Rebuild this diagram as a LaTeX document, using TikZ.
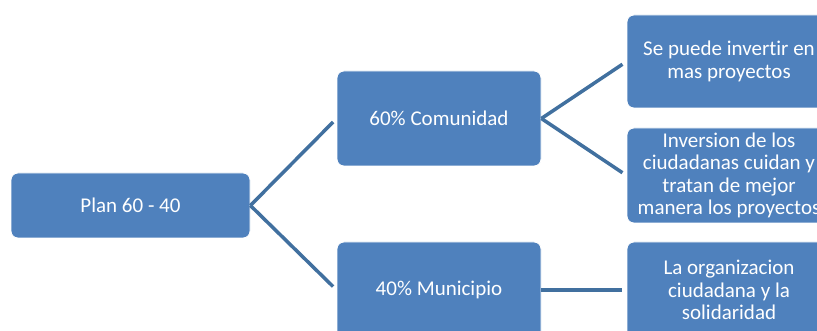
\documentclass[tikz,border=0pt]{standalone}
\usepackage{fontspec}
\setmainfont[Ligatures=NoCommon]{Carlito}
\definecolor{boxblue}{HTML}{4F81BD}
\definecolor{linkblue}{HTML}{41709F}
\begin{document}
\begin{tikzpicture}[x=1pt,y=-1pt,
  box/.style={rectangle, rounded corners=7pt, fill=boxblue, draw=white, line width=0.8pt,
    text=white, align=center, inner sep=0pt, font=\fontsize{21}{22.5}\selectfont},
  link/.style={draw=linkblue, line width=3.5pt}]
\useasboundingbox (0,0) rectangle (817,331);
\clip (0,0) rectangle (817,331);
\node[box, minimum width=239pt, minimum height=65pt] (plan) at (130.5,205.5) {Plan 60 - 40};
\node[box, minimum width=204pt, minimum height=95pt] (com) at (439,118.5) {60\% Comunidad};
\node[box, minimum width=204pt, minimum height=96pt] (mun) at (439,290) {40\% Municipio};
\node[box, minimum width=204pt, minimum height=93pt] (r1) at (729,61.5) {Se puede invertir en\\mas proyectos};
\node[box, minimum width=204pt, minimum height=95pt] (r2) at (729,175.5) {Inversion de los\\ciudadanas cuidan y\\tratan de mejor\\manera los proyectos};
\node[box, minimum width=204pt, minimum height=96pt] (r3) at (729,290) {La organizacion\\ciudadana y la\\solidaridad};
\draw[link, shorten >=5pt] (plan.east) -- (com.west);
\draw[link, shorten >=5pt] (plan.east) -- (mun.west);
\draw[link, shorten >=5pt] (com.east) -- (r1.west);
\draw[link, shorten >=5pt] (com.east) -- (r2.west);
\draw[link, shorten >=5pt] (mun.east) -- (r3.west);
\end{tikzpicture}
\end{document}
